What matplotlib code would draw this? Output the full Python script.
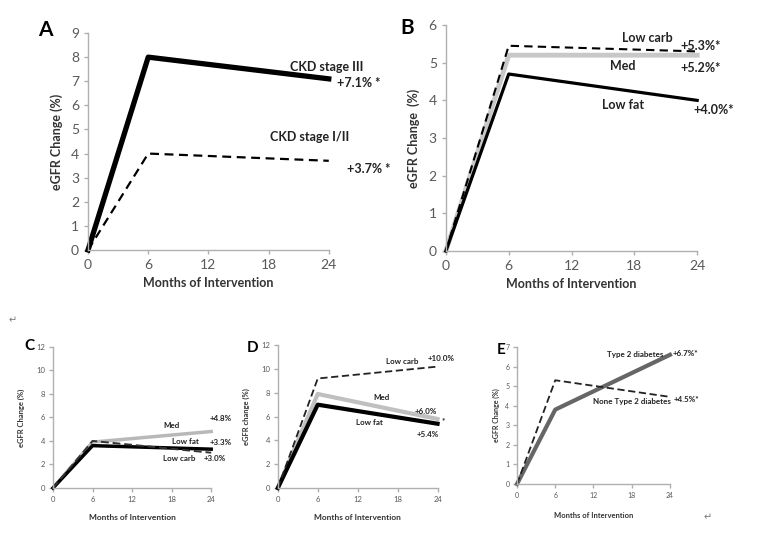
import matplotlib
matplotlib.use("Agg")
import matplotlib.pyplot as plt

plt.rcParams['font.family'] = ['Lato', 'DejaVu Sans']

months = [0, 6, 24]

# Panel A: CKD stage
ckd_3 = [0, 8.0, 7.1]
ckd_12 = [0, 4.0, 3.7]

# Panel B: diet groups, all participants
b_low_carb = [0, 5.45, 5.3]
b_med = [0, 5.2, 5.2]
b_low_fat = [0, 4.7, 4.0]

# Panel C
c_med = [0, 3.9, 4.8]
c_low_fat = [0, 3.6, 3.3]
c_low_carb = [0, 4.0, 3.0]

# Panel D
d_low_carb = [0, 9.2, 10.2]
d_med = [0, 7.9, 5.8]
d_low_fat = [0, 7.0, 5.4]

# Panel E: diabetes
e_t2d = [0, 3.8, 6.6]
e_none = [0, 5.3, 4.45]

GRAY_TXT = '#595959'
SPINE = '#b0b0b0'


def style(ax, ymax, ystep, tick_fs, pad=3.5):
    ax.set_xlim(0, 24)
    ax.set_ylim(0, ymax)
    ax.set_xticks([0, 6, 12, 18, 24])
    ax.set_yticks(range(0, ymax + 1, ystep))
    for s in ['top', 'right']:
        ax.spines[s].set_visible(False)
    for s in ['left', 'bottom']:
        ax.spines[s].set_color(SPINE)
        ax.spines[s].set_linewidth(1.0)
    ax.tick_params(colors=SPINE, labelcolor=GRAY_TXT, labelsize=tick_fs,
                   length=3, width=1.0, pad=pad)


fig = plt.figure(figsize=(7.57, 5.33), dpi=100)

# ---- A
axA = fig.add_axes([0.1163, 0.531, 0.318, 0.407])
style(axA, 9, 1, 10)
axA.plot(months, ckd_3, color='black', lw=3.8, clip_on=False)
axA.plot(months, ckd_12, color='black', lw=1.6, ls=(0, (4, 2.5)), clip_on=False)
axA.set_xlabel('Months of Intervention', fontsize=9, fontweight='bold', color='#333333')
axA.set_ylabel('eGFR Change (%)', fontsize=9, fontweight='bold', color='#333333', labelpad=6)
kw = dict(fontsize=9, fontweight='bold', color='#222222', va='center', clip_on=False)
axA.text(20.1, 7.59, 'CKD stage III', **kw)
axA.text(24.8, 6.93, '+7.1% *', **kw)
axA.text(18.1, 4.69, 'CKD stage I/II', **kw)
axA.text(25.8, 3.36, '+3.7% *', **kw)
fig.text(45 / 757, 1 - 30 / 533, 'A', fontsize=15, fontweight='bold', ha='center', va='center')

# ---- B
axB = fig.add_axes([0.589, 0.529, 0.332, 0.424])
style(axB, 6, 1, 10)
axB.plot(months, b_med, color='#c8c8c8', lw=3.5, clip_on=False)
axB.plot(months, b_low_fat, color='black', lw=2.3, clip_on=False)
axB.plot(months, b_low_carb, color='black', lw=1.5, ls=(0, (4, 2.5)), clip_on=False)
axB.set_xlabel('Months of Intervention', fontsize=9, fontweight='bold', color='#333333')
axB.set_ylabel('eGFR Change  (%)', fontsize=9, fontweight='bold', color='#333333', labelpad=6)
axB.text(16.8, 5.65, 'Low carb', **kw)
axB.text(22.4, 5.44, '+5.3%*', **kw)
axB.text(15.7, 4.91, 'Med', **kw)
axB.text(22.4, 4.86, '+5.2%*', **kw)
axB.text(14.9, 3.88, 'Low fat', **kw)
axB.text(23.6, 3.74, '+4.0%*', **kw)
fig.text(407 / 757, 1 - 28 / 533, 'B', fontsize=15, fontweight='bold', ha='center', va='center')

# ---- C
kws = dict(fontsize=5.8, fontweight='bold', color='#222222', va='center', clip_on=False)
axC = fig.add_axes([0.070, 0.0844, 0.209, 0.265])
style(axC, 12, 2, 5.5, pad=2.5)
axC.plot(months, c_med, color='#b8b8b8', lw=2.5, clip_on=False)
axC.plot(months, c_low_fat, color='black', lw=2.5, clip_on=False)
axC.plot(months, c_low_carb, color='#333333', lw=1.4, ls=(0, (4, 2)), clip_on=False)
axC.set_xlabel('Months of Intervention', fontsize=6, fontweight='bold', color='#333333', labelpad=8)
axC.set_ylabel('eGFR Change (%)', fontsize=5.5, fontweight='bold', color='#333333', labelpad=8)
axC.text(16.7, 5.28, 'Med', **kws)
axC.text(23.8, 5.87, '+4.8%', **kws)
axC.text(18.0, 3.95, 'Low fat', **kws)
axC.text(23.8, 3.83, '+3.3%', **kws)
axC.text(16.7, 2.55, 'Low carb', **kws)
axC.text(22.8, 2.55, '+3.0%', **kws)
fig.text(29 / 757, 1 - 346 / 533, 'C', fontsize=11, fontweight='bold', ha='center', va='center')

# ---- D
axD = fig.add_axes([0.367, 0.0844, 0.211, 0.268])
style(axD, 12, 2, 5.5, pad=2.5)
axD.plot(months, d_med, color='#c0c0c0', lw=3, clip_on=False)
axD.plot(months, d_low_fat, color='black', lw=3, clip_on=False)
axD.plot(months, d_low_carb, color='#222222', lw=1.3, ls=(0, (4, 2)), clip_on=False)
axD.set_xlabel('Months of Intervention', fontsize=6, fontweight='bold', color='#333333', labelpad=8)
axD.set_ylabel('eGFR change (%)', fontsize=5.5, fontweight='bold', color='#333333', labelpad=8)
axD.text(16.2, 10.6, 'Low carb', **kws)
axD.text(22.5, 10.9, '+10.0%', **kws)
axD.text(14.3, 7.64, 'Med', **kws)
axD.text(20.6, 6.46, '+6.0%', **kws)
axD.text(24.6, 5.7, '*', **kws)
axD.text(11.7, 5.54, 'Low fat', **kws)
axD.text(20.8, 4.53, '+5.4%', **kws)
fig.text(253 / 757, 1 - 348 / 533, 'D', fontsize=11, fontweight='bold', ha='center', va='center')

# ---- E
axE = fig.add_axes([0.683, 0.092, 0.202, 0.257])
style(axE, 7, 1, 5, pad=2.5)
axE.plot(months, e_t2d, color='#666666', lw=3, clip_on=False)
axE.plot(months, e_none, color='#222222', lw=1.3, ls=(0, (4, 2)), clip_on=False)
axE.set_xlabel('Months of Intervention', fontsize=5.5, fontweight='bold', color='#333333', labelpad=10)
axE.set_ylabel('eGFR Change (%)', fontsize=5, fontweight='bold', color='#333333', labelpad=4)
axE.text(14.1, 6.64, 'Type 2 diabetes', **kws)
axE.text(24.5, 6.69, '+6.7%*', **kws)
axE.text(11.9, 4.19, 'None Type 2 diabetes', **kws)
axE.text(24.6, 4.34, '+4.5%*', **kws)
fig.text(501 / 757, 1 - 350 / 533, 'E', fontsize=11, fontweight='bold', ha='center', va='center')

# stray paragraph marks from the source document
fig.text(13 / 757, 1 - 321 / 533, '\u21b5', fontsize=7, color='#777777', ha='center', va='center')
fig.text(708 / 757, 1 - 518 / 533, '\u21b5', fontsize=7, color='#777777', ha='center', va='center')

fig.savefig('out.png', dpi=100)
